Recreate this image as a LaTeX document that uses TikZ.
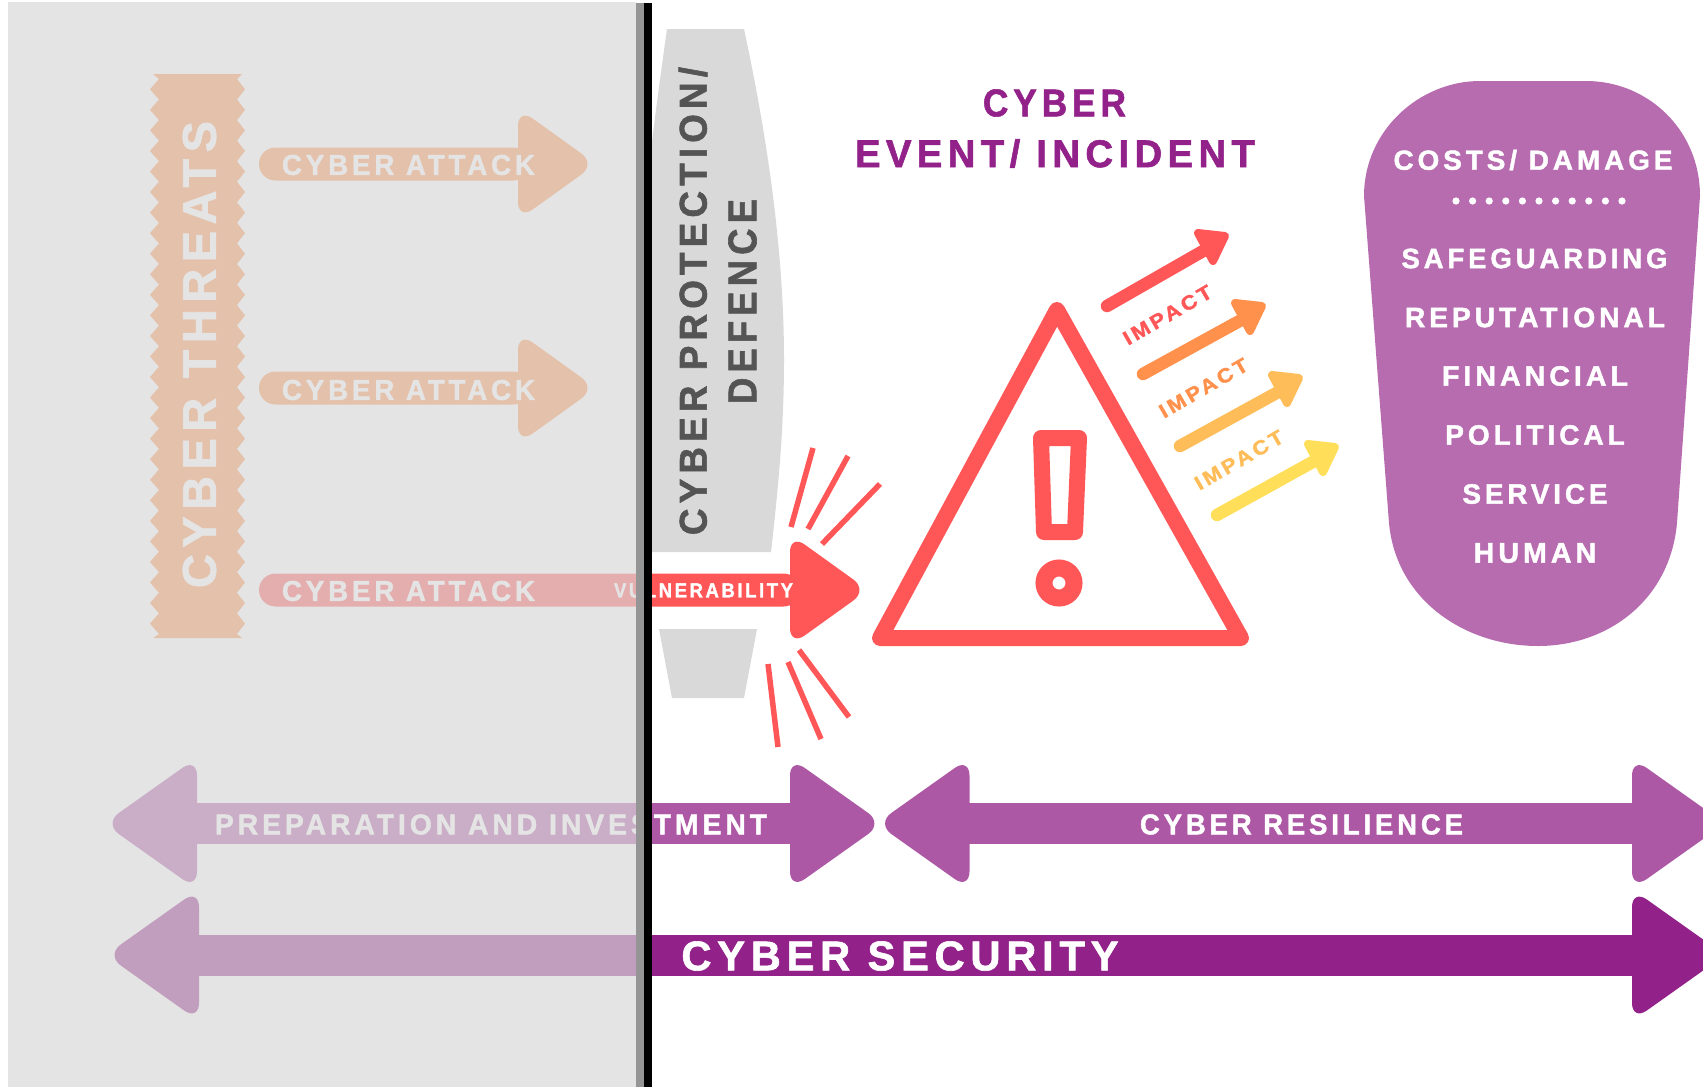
\documentclass[tikz,border=0pt]{standalone}
\usepackage{fontspec}
\usepackage{graphicx}
\newfontfamily\lblfont[LetterSpace=14,FakeBold=1.5]{Liberation Sans Bold}
\definecolor{cred}{HTML}{FF5757}
\definecolor{corange}{HTML}{FF914D}
\definecolor{camber}{HTML}{FFBD59}
\definecolor{cyellow}{HTML}{FFDE59}
\definecolor{cpurple}{HTML}{92228A}
\definecolor{cmauve}{HTML}{AD58A5}
\definecolor{cblob}{HTML}{B76CB0}
\definecolor{cshield}{HTML}{D9D9D9}
\definecolor{cdark}{HTML}{545454}
\definecolor{cstripe}{HTML}{959595}
\definecolor{cveil}{HTML}{D8D8D8}
\newcommand\lbltext[3]{\resizebox{#1pt}{#2pt}{\lblfont #3}}
% head pointing right: base x, y centre, half height, length, colour
\newcommand\headR[5]{\fill[#5,rounded corners=18pt] (#1,{#2-#3}) -- ({#1+#4},#2) -- (#1,{#2+#3}) -- cycle;}
\newcommand\headL[5]{\fill[#5,rounded corners=18pt] (#1,{#2-#3}) -- ({#1-#4},#2) -- (#1,{#2+#3}) -- cycle;}
\newcommand\impactarrow[5]{%
  \draw[#1,line width=12.5pt,line cap=round] (#2,#3) -- ({#4-12},{#5+10});
  \fill[#1,draw=#1,line width=8pt,line join=round] ({#4-4},{#5+3}) -- ({#4-31},{#5}) -- ({#4-16},{#5+28}) -- cycle;}
\tikzset{
  txt/.style={inner sep=0pt,outer sep=0pt,text=white,anchor=center},
  burst/.style={cred,line width=5.5pt},
}
\begin{document}
\begin{tikzpicture}[x=1pt,y=-1pt]
\useasboundingbox (0,0) rectangle (1703,1087);
\clip (0,0) rectangle (1703,1087);
\fill[white] (0,0) rectangle (1703,1087);

% cyber threats band
\fill[corange] (153,74) -- (242,74) -- (237,79)
  \foreach \k in {0,...,26} { -- (245,{89.3+20.55*\k}) -- (237,{99.55+20.55*\k}) }
  -- (242,638) -- (153,638) -- (159,634)
  \foreach \k in {26,25,...,0} { -- (150,{89.3+20.55*\k}) -- (159,{79+20.55*\k}) }
  -- cycle;
\node[txt,rotate=90] (threats) at (199.5,354.5) {\lbltext{467}{33}{CYBER THREATS}};

% attack arrows
\fill[corange,rounded corners=16.5pt] (259,147.5) rectangle (530,180.5);
\headR{518}{164}{56}{78}{corange}
\node[txt] (attack1) at (408.5,165) {\lbltext{253}{20}{CYBER ATTACK}};
\fill[corange,rounded corners=16.5pt] (259,371.5) rectangle (530,404.5);
\headR{518}{388}{56}{78}{corange}
\node[txt] (attack2) at (408.5,390) {\lbltext{253}{20}{CYBER ATTACK}};
\fill[cred,rounded corners=16.5pt] (259,573.5) rectangle (800,606.5);
\headR{790}{590}{56}{78}{cred}
\node[txt] (attack3) at (408.5,591) {\lbltext{253}{20}{CYBER ATTACK}};
\node[txt] (vuln) at (703.5,590.5) {\lbltext{179}{14}{VULNERABILITY}};

% protection shape
\fill[cshield] (667,29) -- (744,29)
  .. controls (770,150) and (784,260) .. (784,360)
  .. controls (784,430) and (778,490) .. (771,552)
  -- (652,552)
  .. controls (642,490) and (636,430) .. (636,360)
  .. controls (636,260) and (650,150) .. (667,29) -- cycle;
\fill[cshield] (659,629) -- (757,629) -- (744,698) -- (672,698) -- cycle;
\node[txt,rotate=90,text=cdark] (prot) at (693,301) {\lbltext{468}{28}{CYBER PROTECTION/}};
\node[txt,rotate=90,text=cdark] (def) at (742.5,301.5) {\lbltext{205}{28}{DEFENCE}};

% burst
\draw[burst] (791,527) -- (813,448);
\draw[burst] (808,529) -- (848,456);
\draw[burst] (822,544) -- (880,484);
\draw[burst] (799,650) -- (849,717);
\draw[burst] (788,662) -- (821,739);
\draw[burst] (768,664) -- (778,747);

% warning triangle
\draw[cred,line width=16pt,line join=round] (1057,310) -- (880,638) -- (1241,638) -- cycle;
\draw[cred,line width=16pt,line join=round] (1041,438) -- (1079,438) -- (1075,532) -- (1044,532) -- cycle;
\draw[cred,line width=17pt] (1059,583) circle (15);

% title
\node[txt,text=cpurple] (title1) at (1054.5,103) {\lbltext{143}{27}{CYBER}};
\node[txt,text=cpurple] (title2) at (1055,153.5) {\lbltext{400}{28}{EVENT/ INCIDENT}};

% impact arrows
\impactarrow{cred}{1107}{306}{1229}{233}
\impactarrow{corange}{1143}{374}{1266}{303}
\impactarrow{camber}{1180}{446}{1303}{375}
\impactarrow{cyellow}{1217}{515}{1339}{444}
\node[txt,rotate=30,text=cred] (imp1) at (1167.5,315) {\lbltext{99}{14}{IMPACT}};
\node[txt,rotate=30,text=corange] (imp2) at (1203.5,388) {\lbltext{99}{14}{IMPACT}};
\node[txt,rotate=30,text=camber] (imp3) at (1239,460) {\lbltext{99}{14}{IMPACT}};

% costs blob
\fill[cblob] (1364,196)
  .. controls (1364,130) and (1420,81) .. (1480,81)
  -- (1586,81)
  .. controls (1648,81) and (1700,130) .. (1700,196)
  -- (1677,523)
  .. controls (1670,600) and (1608,646) .. (1538,646)
  .. controls (1465,646) and (1396,600) .. (1389,523)
  -- cycle;
\node[txt] (costs) at (1533,160) {\lbltext{279}{20}{COSTS/ DAMAGE}};
\foreach \k in {0,...,10} \fill[white] ({1456+16.6*\k},201) circle (3.6);
\node[txt] (c1) at (1534.5,258.5) {\lbltext{266}{19.5}{SAFEGUARDING}};
\node[txt] (c2) at (1535,317.5) {\lbltext{260}{19.5}{REPUTATIONAL}};
\node[txt] (c3) at (1535,376) {\lbltext{186}{19.5}{FINANCIAL}};
\node[txt] (c4) at (1535,435) {\lbltext{179.5}{19.5}{POLITICAL}};
\node[txt] (c5) at (1535,494) {\lbltext{145}{19.5}{SERVICE}};
\node[txt] (c6) at (1535,553) {\lbltext{122.5}{19.5}{HUMAN}};

% preparation arrow
\fill[cmauve] (190,803) rectangle (800,844);
\headL{197}{823.5}{66}{93}{cmauve}
\headR{790}{823.5}{66}{93}{cmauve}
\node[txt] (prep) at (491,824.5) {\lbltext{552}{20}{PREPARATION AND INVESTMENT}};
% resilience arrow
\fill[cmauve] (960,803) rectangle (1640,844);
\headL{969.5}{823.5}{66}{93}{cmauve}
\headR{1632}{823.5}{66}{93}{cmauve}
\node[txt] (res) at (1301.5,824.5) {\lbltext{323}{20}{CYBER RESILIENCE}};
% security arrow
\fill[cpurple] (190,934.5) rectangle (1640,975.5);
\headL{199}{955}{66}{93}{cpurple}
\headR{1632}{955}{66}{93}{cpurple}
\node[txt] (sec) at (900,956) {\lbltext{437}{29}{CYBER SECURITY}};

% veil and divider
\fill[cveil,fill opacity=0.68] (8,2) rectangle (636,1087);
\fill[cstripe] (636,3) rectangle (644,1087);
\fill[black] (644,3) rectangle (652,1087);
\end{tikzpicture}
\end{document}
